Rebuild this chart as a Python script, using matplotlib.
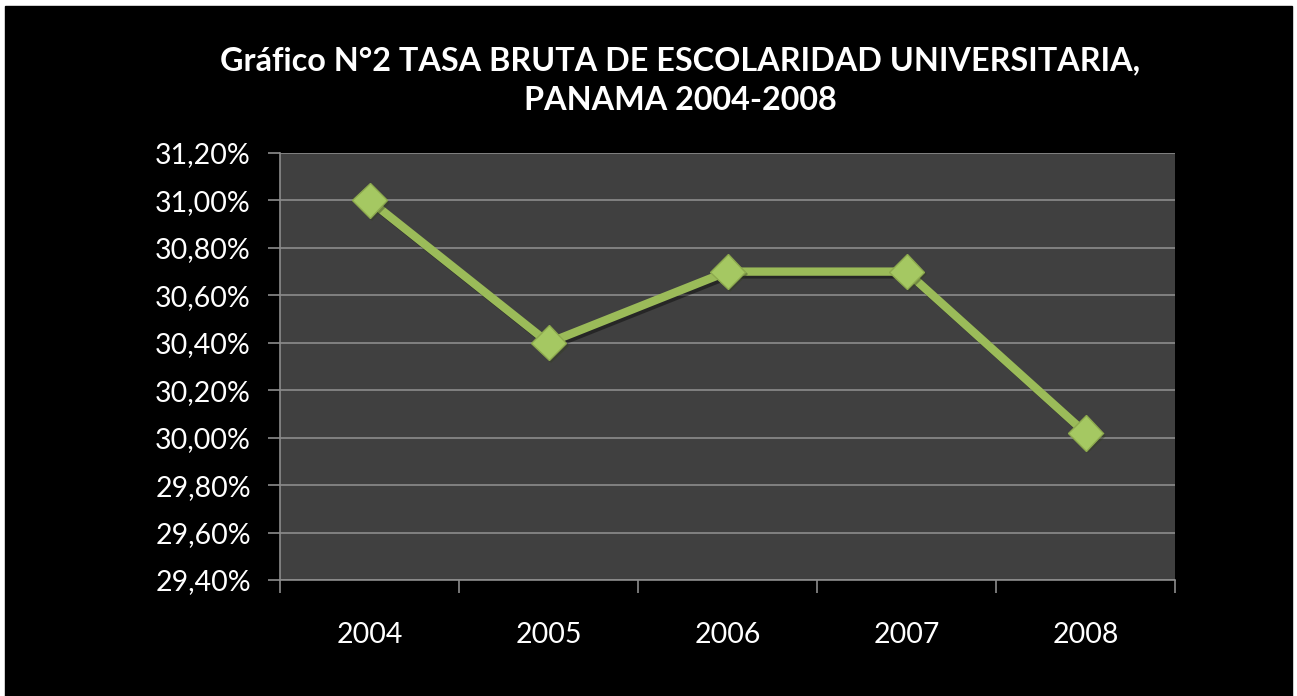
import matplotlib

matplotlib.use("Agg")

import matplotlib.pyplot as plt
import matplotlib.patheffects as pe
from matplotlib.ticker import FuncFormatter, MultipleLocator

plt.rcParams["font.family"] = ["Lato", "DejaVu Sans"]

YEARS = ["2004", "2005", "2006", "2007", "2008"]
TASA = [31.00, 30.40, 30.70, 30.70, 30.02]  # percent
TITLE = "Gráfico N°2 TASA BRUTA DE ESCOLARIDAD UNIVERSITARIA,\nPANAMA 2004-2008"

GREEN = "#9BBB59"
PLOT_BG = "#404040"
GRID = "#8C8C8C"

fig = plt.figure(figsize=(12.97, 6.96), dpi=100, facecolor="white")
# black slide background inside a thin white frame
fig.patches.append(plt.Rectangle((5 / 1297, 0), 1287 / 1297, 690 / 696,
                                 transform=fig.transFigure, color="black", zorder=-10))

ax = fig.add_axes([280 / 1297, 1 - 580 / 696, 895 / 1297, 427 / 696])
ax.set_zorder(5)
ax.set_facecolor(PLOT_BG)

x = list(range(len(YEARS)))
ax.plot(x, TASA, "-", color=GREEN, lw=6, solid_capstyle="round", zorder=3,
        path_effects=[pe.SimpleLineShadow(offset=(2, -2), alpha=0.4), pe.Normal()])
ax.plot(x, TASA, "D", ms=18, mfc="#A5C862", mec="#8DAA4E", mew=1, zorder=4,
        path_effects=[pe.SimplePatchShadow(offset=(2, -2), alpha=0.4), pe.Normal()])

ax.set_xlim(-0.5, len(YEARS) - 0.5)
ax.set_ylim(29.4, 31.2)
ax.yaxis.set_major_locator(MultipleLocator(0.2))
ax.yaxis.set_major_formatter(FuncFormatter(lambda v, _: f"{v:.2f}%".replace(".", ",")))
ax.grid(axis="y", color=GRID, lw=1.2)
ax.set_axisbelow(True)

ax.set_xticks(x)
ax.set_xticklabels(YEARS)
ax.set_xticks([i - 0.5 for i in range(len(YEARS) + 1)], minor=True)
ax.tick_params(axis="x", which="major", length=0, pad=30, labelsize=20.5, labelcolor="white")
ax.tick_params(axis="x", which="minor", length=9, width=1.2, color=GRID, direction="out")
ax.tick_params(axis="y", length=9, width=1.2, color=GRID, direction="out",
               labelsize=20.5, labelcolor="white", pad=12)

for s in ("top", "right"):
    ax.spines[s].set_visible(False)
for s in ("left", "bottom"):
    ax.spines[s].set_color(GRID)
    ax.spines[s].set_linewidth(1.2)

fig.text(680 / 1297, 1 - 81 / 696, TITLE, ha="center", va="center", color="white",
         fontsize=23.3, fontweight="bold", linespacing=1.45)

fig.savefig("out.png", dpi=100, facecolor="white")
